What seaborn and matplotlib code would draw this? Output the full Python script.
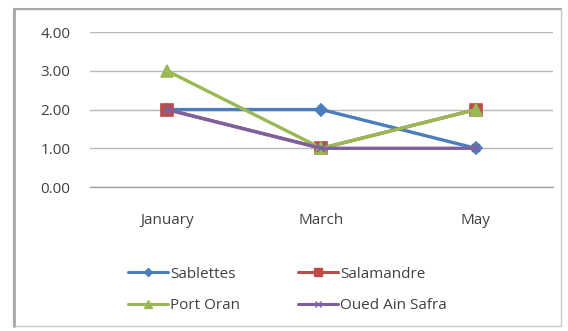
import matplotlib
matplotlib.use("Agg")
import matplotlib.pyplot as plt
from matplotlib.lines import Line2D
from matplotlib.patches import Rectangle
import seaborn as sns
import pandas as pd

months = ["January", "March", "May"]
sablettes = [2, 2, 1]
salamandre = [2, 1, 2]
port_oran = [3, 1, 2]
oued_ain_safra = [2, 1, 1]
series_names = ["Sablettes", "Salamandre", "Port Oran", "Oued Ain Safra"]
y_ticks = [0, 1, 2, 3, 4]

rows = []
for name, vals in zip(series_names, [sablettes, salamandre, port_oran, oued_ain_safra]):
    for i, (m, v) in enumerate(zip(months, vals)):
        rows.append({"month": m, "x": i, "value": v, "site": name})
df = pd.DataFrame(rows)

sns.set_theme(style="white")
plt.rcParams["font.family"] = ["Open Sans", "DejaVu Sans"]

fig = plt.figure(figsize=(5.68, 3.31), dpi=100)
fig.patch.set_facecolor("white")
ax = fig.add_axes([0.1585, 0.435, 0.815, 0.468])

palette = {"Sablettes": "#4A7EBB", "Salamandre": "#BE4B48",
           "Port Oran": "#98B954", "Oued Ain Safra": "#7D60A0"}
markers = {"Sablettes": "D", "Salamandre": "s",
           "Port Oran": "^", "Oued Ain Safra": "x"}
msize = {"Sablettes": 6, "Salamandre": 9, "Port Oran": 8, "Oued Ain Safra": 6}

for name in series_names:
    sub = df[df["site"] == name]
    sns.lineplot(data=sub, x="x", y="value", ax=ax, color=palette[name],
                 marker=markers[name], markersize=msize[name], linewidth=2.4,
                 markeredgecolor=palette[name], markeredgewidth=1.2,
                 legend=False)

ax.set_xlim(-0.5, 2.5)
ax.set_ylim(0, 4)
ax.set_yticks(y_ticks)
ax.set_yticklabels([f"{t:.2f}" for t in y_ticks], fontsize=11, color="#404040")
ax.set_xticks(range(len(months)))
ax.set_xticklabels(months, fontsize=11, color="#404040")
ax.tick_params(axis="y", length=0, pad=14)
ax.tick_params(axis="x", length=0, pad=19)
ax.set_xlabel("")
ax.set_ylabel("")
ax.grid(axis="y", color="#B8B8B8", linewidth=1)
ax.set_axisbelow(True)
for s in ["top", "right", "left"]:
    ax.spines[s].set_visible(False)
ax.spines["bottom"].set_color("#A0A0A0")
ax.spines["bottom"].set_linewidth(1)

# legend fills row by row: Sablettes, Salamandre / Port Oran, Oued Ain Safra
legend_order = ["Sablettes", "Port Oran", "Salamandre", "Oued Ain Safra"]
handles = [Line2D([], [], color=palette[n], marker=markers[n],
                  markersize=msize[n] * 0.7, linewidth=2.2,
                  markeredgecolor=palette[n]) for n in legend_order]
fig.legend(handles, legend_order, ncol=2, loc="upper left",
           bbox_to_anchor=(0.215, 0.213), frameon=False, fontsize=11,
           handlelength=2.6, handletextpad=0.15, columnspacing=3.8,
           labelspacing=1.07, borderaxespad=0, labelcolor="#404040")

# chart area border
fig.add_artist(Rectangle((12.5 / 568, 5 / 331), (561 - 12.5) / 568, (322.5 - 5) / 331,
                         transform=fig.transFigure, fill=False,
                         edgecolor="#C8C8C8", linewidth=1))
fig.add_artist(Line2D([13.5 / 568, 13.5 / 568], [5 / 331, 322.5 / 331],
                      transform=fig.transFigure, color="#A8A8A8", linewidth=2))
fig.add_artist(Line2D([13.5 / 568, 561 / 568], [322.5 / 331, 322.5 / 331],
                      transform=fig.transFigure, color="#A8A8A8", linewidth=1.5))

fig.savefig("out.png", dpi=100)
